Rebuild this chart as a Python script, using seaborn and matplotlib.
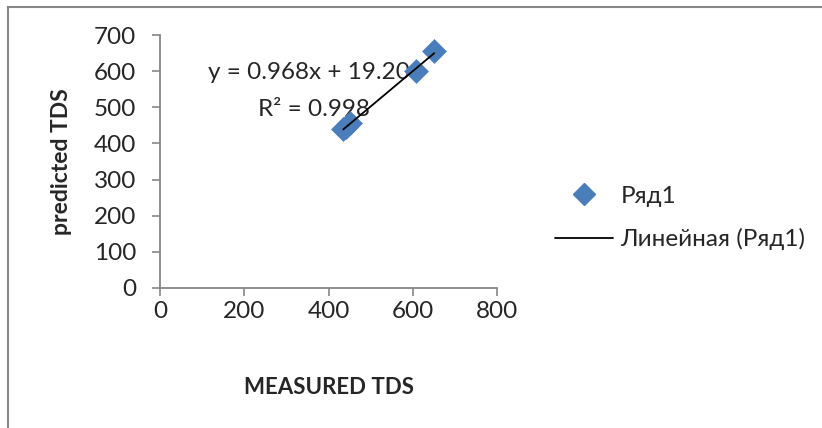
import numpy as np
import pandas as pd
import seaborn as sns
import matplotlib.pyplot as plt
from matplotlib.lines import Line2D
from matplotlib.patches import Rectangle

# данные (оценка по картинке)
measured = [435, 442, 452, 607, 651]
predicted = [439, 446, 456, 600, 655]
x_ticks = [0, 200, 400, 600, 800]
y_ticks = [0, 100, 200, 300, 400, 500, 600, 700]
eq_text = "y = 0.968x + 19.20"
r2_text = "R² = 0.998"

df = pd.DataFrame({"MEASURED TDS": measured, "predicted TDS": predicted})

sns.set_style("white")
plt.rcParams['font.family'] = ['Lato', 'DejaVu Sans']

fig = plt.figure(figsize=(8.22, 4.28), dpi=100)
ax = fig.add_axes([160/822, 1-288/428, (497-160)/822, (288-35)/428])

blue = "#4a7ebb"
sns.scatterplot(data=df, x="MEASURED TDS", y="predicted TDS", ax=ax, marker="D",
                s=160, color=blue, edgecolor=blue, linewidth=0, zorder=3, legend=False)

# линейный тренд
k, b = np.polyfit(measured, predicted, 1)
xs = np.array([min(measured), max(measured)])
ax.plot(xs, k*xs + b, color="black", lw=1.3, zorder=4)

ax.set_xlim(0, 800)
ax.set_ylim(0, 700)
ax.set_xticks(x_ticks)
ax.set_yticks(y_ticks)
for s in ["top", "right"]:
    ax.spines[s].set_visible(False)
for s in ["left", "bottom"]:
    ax.spines[s].set_color("#868686")
    ax.spines[s].set_linewidth(1.3)
ax.tick_params(axis="both", which="major", direction="out", length=6, width=1.2,
               color="#868686", labelsize=17.5, left=True, bottom=True)
ax.tick_params(axis="y", pad=11)
ax.tick_params(axis="x", pad=3)
ax.set_xlabel("MEASURED TDS", fontsize=16, fontweight="bold", labelpad=40)
ax.set_ylabel("predicted TDS", fontsize=16.5, fontweight="bold", labelpad=16)

ax.text(353, 597, eq_text, fontsize=17.5, ha="center", va="center", zorder=2)
ax.text(365, 495, r2_text, fontsize=17.5, ha="center", va="center", zorder=2)

handles = [
    Line2D([], [], marker="D", color=blue, ls="none", markersize=11),
    Line2D([], [], color="black", lw=1.3),
]
fig.legend(handles, ["Ряд1", "Линейная (Ряд1)"], loc="center left",
           bbox_to_anchor=(533/822, 1-218/428), frameon=False, fontsize=17.5,
           handlelength=2.4, handletextpad=0.3, labelspacing=0.9)

# рамка области диаграммы
fig.add_artist(Rectangle((8/822, -0.1), 1.2, 1-7/428 + 0.1, transform=fig.transFigure,
                         fill=False, edgecolor="#868686", lw=1.5))

fig.savefig("out.png", dpi=100)
